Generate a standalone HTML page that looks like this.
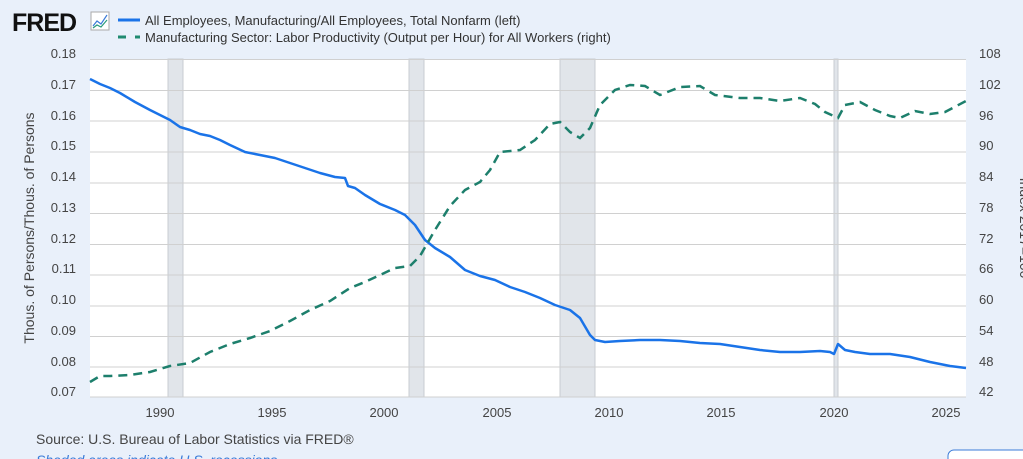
<!DOCTYPE html>
<html><head><meta charset="utf-8"><style>
html,body{margin:0;padding:0;width:1023px;height:459px;overflow:hidden;background:#e9f0fa;font-family:"Liberation Sans",sans-serif;}
</style></head><body>
<svg width="1023" height="459" xmlns="http://www.w3.org/2000/svg" style="position:absolute;left:0;top:0">
<rect x="0" y="0" width="1023" height="459" fill="#e9f0fa"/>
<text x="12" y="31" font-size="25" font-weight="bold" fill="#111" font-family="Liberation Sans,sans-serif" letter-spacing="-1">FRED</text>
<rect x="91" y="12" width="18" height="18" fill="#fff" stroke="#aaa"/>
<polyline points="93,26 97,21 101,24 107,15" fill="none" stroke="#3b7bd8" stroke-width="1.2"/>
<polyline points="93,28 97,25 101,27 107,20" fill="none" stroke="#2a9a7a" stroke-width="1.2"/>
<line x1="118" y1="20" x2="140" y2="20" stroke="#1a73e8" stroke-width="3"/>
<line x1="118" y1="37" x2="126" y2="37" stroke="#1f8a70" stroke-width="3"/><line x1="135" y1="37" x2="140" y2="37" stroke="#1f8a70" stroke-width="3"/>
<text x="145" y="25" font-size="13" fill="#333">All Employees, Manufacturing/All Employees, Total Nonfarm (left)</text>
<text x="145" y="42" font-size="13" fill="#333">Manufacturing Sector: Labor Productivity (Output per Hour) for All Workers (right)</text>
<rect x="90" y="59" width="876" height="338" fill="#fff"/>
<g fill="#e1e5ea" stroke="#c8ccd2" stroke-width="1">
<rect x="168" y="59" width="15" height="338"/><rect x="409" y="59" width="15" height="338"/><rect x="560" y="59" width="35" height="338"/><rect x="834" y="59" width="4" height="338"/>
</g>
<g stroke="#d0d0d0" stroke-width="1">
<line x1="90" y1="59.5" x2="966" y2="59.5"/><line x1="90" y1="90.5" x2="966" y2="90.5"/><line x1="90" y1="121" x2="966" y2="121"/><line x1="90" y1="152" x2="966" y2="152"/><line x1="90" y1="183" x2="966" y2="183"/><line x1="90" y1="213.5" x2="966" y2="213.5"/><line x1="90" y1="244.5" x2="966" y2="244.5"/><line x1="90" y1="275" x2="966" y2="275"/><line x1="90" y1="306" x2="966" y2="306"/><line x1="90" y1="336.5" x2="966" y2="336.5"/><line x1="90" y1="367" x2="966" y2="367"/><line x1="90" y1="397" x2="966" y2="397"/>
</g>
<g font-size="13" fill="#444" text-anchor="end">
<text x="76" y="58">0.18</text><text x="76" y="89">0.17</text><text x="76" y="120">0.16</text><text x="76" y="150">0.15</text><text x="76" y="181">0.14</text><text x="76" y="212">0.13</text><text x="76" y="243">0.12</text><text x="76" y="273">0.11</text><text x="76" y="304">0.10</text><text x="76" y="335">0.09</text><text x="76" y="366">0.08</text><text x="76" y="396">0.07</text>
</g>
<g font-size="13" fill="#444">
<text x="979" y="58">108</text><text x="979" y="89">102</text><text x="979" y="120">96</text><text x="979" y="150">90</text><text x="979" y="181">84</text><text x="979" y="212">78</text><text x="979" y="243">72</text><text x="979" y="273">66</text><text x="979" y="304">60</text><text x="979" y="335">54</text><text x="979" y="366">48</text><text x="979" y="396">42</text>
</g>
<g font-size="13" fill="#444" text-anchor="middle">
<text x="160" y="417">1990</text><text x="272" y="417">1995</text><text x="384" y="417">2000</text><text x="497" y="417">2005</text><text x="609" y="417">2010</text><text x="721" y="417">2015</text><text x="834" y="417">2020</text><text x="946" y="417">2025</text>
</g>
<text transform="translate(34,228) rotate(-90)" font-size="14" fill="#444" text-anchor="middle">Thous. of Persons/Thous. of Persons</text>
<text transform="translate(1020,228) rotate(90)" font-size="14" fill="#444" text-anchor="middle">Index 2017=100</text>
<polyline fill="none" stroke="#1a73e8" stroke-width="2.5" stroke-linejoin="round" points="90,79 100,84 110,88 120,93 135,102 150,110 160,115 170,120 180,127 190,130 200,134 210,136 220,140 230,145 245,152 260,155 275,158 290,163 305,168 320,173 335,177 345,178 348,186 355,188 365,195 380,204 395,210 405,215 415,225 425,240 435,248 450,257 465,270 480,276 495,280 510,287 525,292 540,298 555,305 570,310 580,318 590,335 595,340 605,342 620,341 640,340 660,340 680,341 700,343 720,344 740,347 760,350 780,352 800,352 820,351 830,352 834,354 838,344 845,350 855,352 870,354 890,354 910,357 930,362 950,366 966,368"/>
<polyline fill="none" stroke="#1d7f6c" stroke-width="2.5" stroke-dasharray="9,6" points="90,382 100,376 110,376 130,375 150,372 170,366 190,363 210,352 230,344 250,338 270,331 290,321 310,310 330,301 350,288 365,282 380,275 395,268 410,266 420,256 435,230 450,206 465,190 480,182 490,170 500,152 520,150 535,140 550,124 560,122 570,132 580,138 590,128 600,105 615,90 630,85 645,86 660,95 680,87 700,86 715,95 740,98 760,98 780,101 800,98 815,104 825,112 838,118 845,105 860,102 875,110 890,116 900,118 915,111 930,114 945,112 966,101"/>
<text x="36" y="444" font-size="14" fill="#444">Source: U.S. Bureau of Labor Statistics via FRED®</text>
<text x="36" y="465" font-size="14" fill="#3b7bd8" font-style="italic">Shaded areas indicate U.S. recessions</text>
<rect x="948" y="450" width="90" height="30" rx="6" fill="#fff" stroke="#3b7bd8"/>
</svg>
</body></html>
